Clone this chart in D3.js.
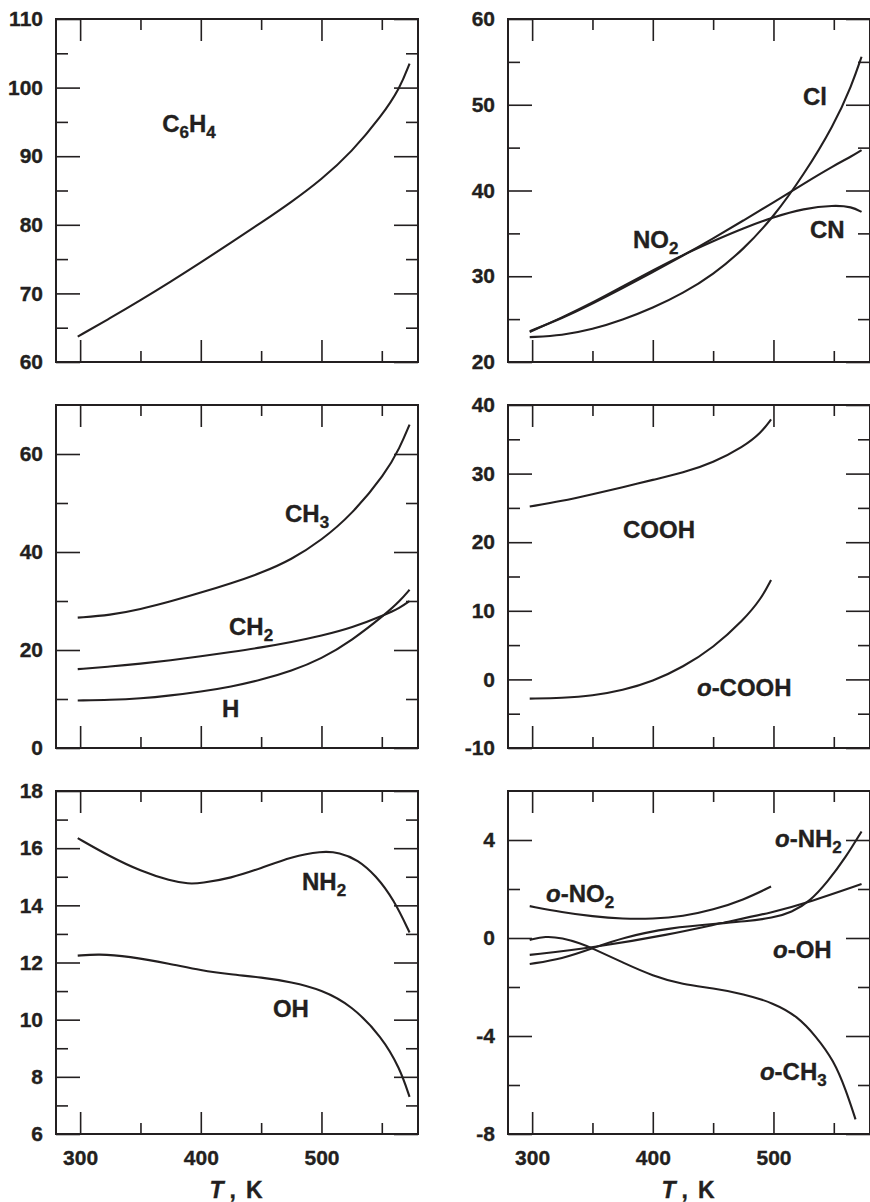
<!DOCTYPE html>
<html>
<head>
<meta charset="utf-8">
<title>Group contributions vs T</title>
<script src="https://cdn.jsdelivr.net/npm/d3@7/dist/d3.min.js"></script>
<style>
body { margin: 0; background: #fff; }
svg text { font-family: "Liberation Sans", Arial, sans-serif; font-weight: bold; fill: #231f20;
  stroke: #231f20; stroke-width: 0.35; }
.curve { fill: none; stroke: #231f20; stroke-width: 2.1; }
.frame { fill: none; stroke: #231f20; stroke-width: 2; }
.tick line { stroke: #231f20; stroke-width: 1.6; }
</style>
</head>
<body>
<svg width="870" height="1202"></svg>
<script>
// values, T in K
const tC6H4 = [298, 325, 350, 375, 400, 425, 450, 475, 500, 525, 550, 565, 573];
const vC6H4 = [63.7, 66.4, 69.0, 71.7, 74.5, 77.4, 80.3, 83.3, 86.6, 90.6, 95.9, 99.9, 103.5];

const tTop2 = [298, 325, 350, 375, 400, 425, 450, 475, 500, 525, 550, 565, 573];
const vCl  = [22.9, 23.1, 23.8, 24.9, 26.3, 28.0, 30.2, 33.1, 36.9, 41.8, 47.6, 52.3, 55.6];
const vNO2 = [23.6, 25.1, 26.8, 28.6, 30.5, 32.4, 34.4, 36.5, 38.6, 40.8, 42.9, 44.0, 44.7];
const vCN  = [23.5, 25.2, 26.9, 28.8, 30.7, 32.5, 34.1, 35.6, 36.9, 37.9, 38.3, 38.1, 37.5];

const tMid1 = [298, 325, 350, 375, 400, 425, 450, 475, 500, 525, 553, 565, 573];
const vCH3 = [26.6, 27.1, 28.3, 29.9, 31.7, 33.6, 35.7, 38.4, 42.4, 47.6, 56.0, 61.3, 66.0];
const vCH2 = [16.1, 16.6, 17.2, 17.9, 18.7, 19.6, 20.5, 21.6, 22.9, 24.5, 27.2, 28.6, 30.0];
const vH   = [9.7, 9.8, 10.1, 10.7, 11.5, 12.5, 13.9, 15.7, 18.2, 21.9, 27.3, 30.0, 32.3];

const tMid2 = [298, 325, 350, 375, 400, 425, 450, 475, 490, 498];
const vCOOH  = [25.2, 26.0, 27.0, 28.0, 29.1, 30.1, 31.6, 33.9, 36.0, 37.9];
const voCOOH = [-2.8, -2.7, -2.4, -1.6, -0.3, 1.8, 4.6, 8.6, 11.8, 14.5];

const tNH2 = [298, 325, 350, 375, 390, 400, 425, 450, 475, 500, 515, 530, 545, 560, 573];
const vNH2 = [16.35, 15.7, 15.2, 14.85, 14.75, 14.77, 14.95, 15.3, 15.7, 15.9, 15.85, 15.6, 15.05, 14.2, 13.05];
const tOH = [298, 315, 340, 375, 400, 425, 450, 475, 500, 525, 550, 565, 573];
const vOH = [12.24, 12.3, 12.22, 11.95, 11.72, 11.58, 11.48, 11.32, 11.05, 10.5, 9.4, 8.3, 7.3];

const toNO2 = [298, 325, 350, 375, 400, 425, 450, 475, 498];
const voNO2 = [1.3, 1.05, 0.88, 0.78, 0.78, 0.88, 1.15, 1.55, 2.1];
const toOH = [298, 350, 414, 456, 500, 530, 573];
const voOH = [-0.69, -0.4, 0.14, 0.6, 1.05, 1.47, 2.2];
const toNH2 = [298, 325, 350, 375, 414, 456, 475, 500, 515, 530, 545, 560, 573];
const voNH2 = [-1.06, -0.85, -0.42, 0.02, 0.42, 0.6, 0.67, 0.82, 1.05, 1.48, 2.3, 3.3, 4.35];
const toCH3 = [298, 311, 325, 340, 350, 375, 400, 425, 450, 475, 500, 520, 535, 550, 560, 568];
const voCH3 = [-0.08, 0.08, 0.0, -0.22, -0.42, -1.0, -1.55, -1.9, -2.05, -2.28, -2.65, -3.2, -4.0, -5.0, -6.2, -7.4];

// tick labels
const xMajor = [300, 400, 500];
const xMinor = [350, 450, 550];
const yTicks = [
  [60, 70, 80, 90, 100, 110],
  [20, 30, 40, 50, 60],
  [0, 20, 40, 60],
  [-10, 0, 10, 20, 30, 40],
  [6, 8, 10, 12, 14, 16, 18],
  [-8, -4, 0, 4]
];
const yMinor = [
  [65, 75, 85, 95, 105],
  [25, 35, 45, 55],
  [10, 30, 50],
  [-5, 5, 15, 25, 35],
  [7, 9, 11, 13, 15, 17],
  [-6, -2, 2]
];

const panels = [
  { y: [60, 110], series: [[tC6H4, vC6H4]],
    labels: [["C_6H_4", 368, 93.5]] },
  { y: [20, 60], series: [[tTop2, vCl], [tTop2, vNO2], [tTop2, vCN]],
    labels: [["Cl", 524.5, 50.0], ["NO_2", 383.6, 33.3], ["CN", 530.3, 34.5]] },
  { y: [0, 70], series: [[tMid1, vCH3], [tMid1, vCH2], [tMid1, vH]],
    labels: [["CH_3", 469.8, 46.1], ["CH_2", 423.4, 23.1], ["H", 417.6, 6.3]] },
  { y: [-10, 40], series: [[tMid2, vCOOH], [tMid2, voCOOH]],
    labels: [["COOH", 375.3, 20.6], ["o-COOH", 436.6, -2.4]] },
  { y: [6, 18], series: [[tNH2, vNH2], [tOH, vOH]],
    labels: [["NH_2", 483.9, 14.54], ["OH", 459.8, 10.09]] },
  { y: [-8, 6], series: [[toNO2, voNO2], [toOH, voOH], [toNH2, voNH2], [toCH3, voCH3]],
    labels: [["o-NH_2", 501.3, 3.71], ["o-NO_2", 311.5, 1.47], ["o-OH", 499.6, -0.82], ["o-CH_3", 488.8, -5.8]] }
];

const svg = d3.select('svg');
const pw = 362, ph = 343;
const colX = [56, 508], rowY = [19, 405, 791];

const line = d3.line().curve(d3.curveBasis);

function addLabel(g, str, x, y) {
  const text = g.append('text').attr('x', x).attr('y', y).style('font-size', '24px');
  let s = str, cur = 0;
  if (s.startsWith('o-')) {
    text.append('tspan').style('font-style', 'italic').text('o');
    s = s.slice(1);
  }
  s.split(/_(\d)/).forEach((p, i) => {
    if (!p) return;
    const sub = i % 2 === 1;
    const off = sub ? 6 : 0;
    text.append('tspan')
      .attr('dy', off - cur)
      .style('font-size', sub ? '17px' : '24px')
      .text(p);
    cur = off;
  });
}

panels.forEach((p, i) => {
  const col = i % 2, row = Math.floor(i / 2);
  const g = svg.append('g').attr('transform', `translate(${colX[col]},${rowY[row]})`);

  const x = d3.scaleLinear().domain([280, 580]).range([0, pw]);
  const y = d3.scaleLinear().domain(p.y).range([ph, 0]);

  // y ticks, inward on both sides
  g.append('g').call(d3.axisLeft(y).tickValues(yTicks[i]).tickSize(-24).tickPadding(13).tickFormat(d => String(d)))
    .call(a => a.select('.domain').remove())
    .selectAll('text').style('font-size', '21px');
  g.append('g').call(d3.axisLeft(y).tickValues(yMinor[i]).tickSize(-12).tickFormat(''))
    .call(a => a.select('.domain').remove());
  g.append('g').attr('transform', `translate(${pw},0)`)
    .call(d3.axisRight(y).tickValues(yTicks[i]).tickSize(-24).tickFormat(''))
    .call(a => a.select('.domain').remove());
  g.append('g').attr('transform', `translate(${pw},0)`)
    .call(d3.axisRight(y).tickValues(yMinor[i]).tickSize(-12).tickFormat(''))
    .call(a => a.select('.domain').remove());

  // x ticks top and bottom
  const bottom = g.append('g').attr('transform', `translate(0,${ph})`)
    .call(d3.axisBottom(x).tickValues(xMajor).tickSize(-22).tickPadding(16)
      .tickFormat(row === 2 ? d => String(d) : ''))
    .call(a => a.select('.domain').remove());
  bottom.selectAll('text').style('font-size', '21px');
  g.append('g').attr('transform', `translate(0,${ph})`)
    .call(d3.axisBottom(x).tickValues(xMinor).tickSize(-11).tickFormat(''))
    .call(a => a.select('.domain').remove());
  g.append('g').call(d3.axisTop(x).tickValues(xMajor).tickSize(-22).tickFormat(''))
    .call(a => a.select('.domain').remove());
  g.append('g').call(d3.axisTop(x).tickValues(xMinor).tickSize(-11).tickFormat(''))
    .call(a => a.select('.domain').remove());

  g.selectAll('.tick text').attr('fill', '#231f20');

  g.append('rect').attr('class', 'frame').attr('width', pw).attr('height', ph);

  p.series.forEach(([ts, vs]) => {
    g.append('path').attr('class', 'curve')
      .attr('d', line(ts.map((t, k) => [x(t), y(vs[k])])));
  });

  p.labels.forEach(([str, t, v]) => addLabel(g, str, x(t), y(v)));

  if (row === 2) {
    const title = g.append('text').attr('x', pw / 2 - 1).attr('y', ph + 64)
      .attr('text-anchor', 'middle').style('font-size', '23px');
    title.append('tspan').style('font-style', 'italic').text('T');
    title.append('tspan').attr('dx', 6).text(',');
    title.append('tspan').attr('dx', 10).text('K');
  }
});
</script>
</body>
</html>
